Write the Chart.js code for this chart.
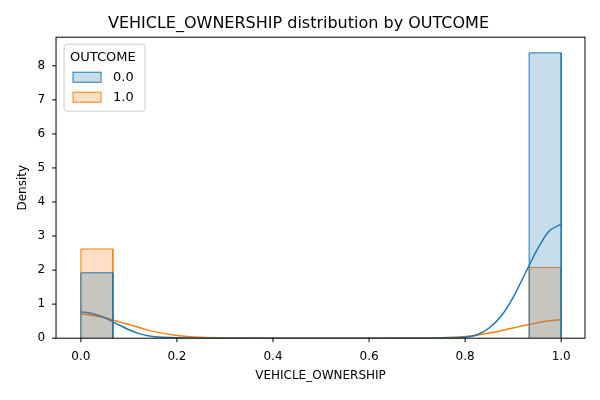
<!DOCTYPE html>
<html><head><meta charset="utf-8">
<script src="https://cdn.jsdelivr.net/npm/chart.js@4/dist/chart.umd.min.js"></script>
<style>html,body{margin:0;background:#fff}#wrap{width:600px;height:400px}</style>
</head><body><div id="wrap"><canvas id="c"></canvas></div>
<script>
// ─── DATA ─────────────────────────────────────────────
const binEdges = [0, 1/15, 14/15, 1];
const hist0 = [1.92, 0, 8.38];   // OUTCOME 0.0
const hist1 = [2.62, 0, 2.08];   // OUTCOME 1.0
const kdeX  = [0, 0.025, 0.05, 0.075, 0.1, 0.125, 0.15, 0.2, 0.25, 0.3, 0.4, 0.5, 0.6, 0.7, 0.75, 0.8, 0.825, 0.85, 0.875, 0.9, 0.925, 0.95, 0.975, 1.0];
const kde0  = [0.78, 0.72, 0.6, 0.42, 0.25, 0.12, 0.05, 0.01, 0, 0, 0, 0, 0, 0, 0.005, 0.03, 0.1, 0.3, 0.65, 1.2, 1.9, 2.6, 3.15, 3.35];
const kde1  = [0.72, 0.67, 0.6, 0.5, 0.4, 0.3, 0.2, 0.08, 0.025, 0.008, 0.002, 0.001, 0.002, 0.006, 0.015, 0.05, 0.09, 0.15, 0.22, 0.3, 0.38, 0.45, 0.51, 0.55];
const xTicks = [0, 0.2, 0.4, 0.6, 0.8, 1.0];
const yTicks = [0, 1, 2, 3, 4, 5, 6, 7, 8];

const BLUE = '#1f77b4', ORANGE = '#ff7f0e';

function barsDataset(h, color, fill) {
    const pts = [];
    h.forEach((v, i) => {
        if (!v) return;
        pts.push({x: binEdges[i], y: 0}, {x: binEdges[i], y: v}, {x: binEdges[i + 1], y: v}, {x: binEdges[i + 1], y: 0}, {x: NaN, y: NaN});
    });
    return { type: 'line', data: pts, borderColor: color, backgroundColor: fill, borderWidth: 1, fill: 'origin', pointRadius: 0, tension: 0, spanGaps: false };
}
function kdeDataset(ys, color) {
    return { type: 'line', data: kdeX.map((x, i) => ({x, y: ys[i]})), borderColor: color, borderWidth: 1.5, fill: false, pointRadius: 0, tension: 0.3 };
}

const frame = {
    id: 'frame',
    afterDraw(chart) {
        const {ctx, chartArea: a} = chart;
        ctx.save();
        ctx.strokeStyle = '#000'; ctx.lineWidth = 1;
        ctx.strokeRect(a.left, a.top, a.right - a.left, a.bottom - a.top);
        // tick marks
        ctx.beginPath();
        xTicks.forEach(v => { const x = chart.scales.x.getPixelForValue(v); ctx.moveTo(x, a.bottom); ctx.lineTo(x, a.bottom + 4); });
        yTicks.forEach(v => { const y = chart.scales.y.getPixelForValue(v); ctx.moveTo(a.left, y); ctx.lineTo(a.left - 4, y); });
        ctx.stroke();
        // legend
        const lx = a.left + 8, ly = a.top + 7, w = 81, hgt = 67;
        ctx.fillStyle = 'rgba(255,255,255,0.8)'; ctx.strokeStyle = '#ccc';
        ctx.beginPath(); ctx.roundRect(lx, ly, w, hgt, 3); ctx.fill(); ctx.stroke();
        ctx.fillStyle = '#000'; ctx.font = '13px "DejaVu Sans"'; ctx.textBaseline = 'middle';
        ctx.fillText('OUTCOME', lx + 6, ly + 13);
        [['0.0', BLUE, 'rgba(31,119,180,0.25)'], ['1.0', ORANGE, 'rgba(255,127,14,0.25)']].forEach(([t, c, f], i) => {
            const yy = ly + 33 + i * 20;
            ctx.fillStyle = '#fff'; ctx.fillRect(lx + 9, yy - 5, 28, 10);
            ctx.fillStyle = f; ctx.fillRect(lx + 9, yy - 5, 28, 10);
            ctx.strokeStyle = c; ctx.strokeRect(lx + 9, yy - 5, 28, 10);
            ctx.fillStyle = '#000'; ctx.fillText(t, lx + 49, yy);
        });
        ctx.restore();
    }
};

new Chart(document.getElementById('c'), {
    type: 'line',
    data: { datasets: [
        barsDataset(hist0, BLUE, 'rgba(31,119,180,0.25)'),
        barsDataset(hist1, ORANGE, 'rgba(255,127,14,0.25)'),
        kdeDataset(kde0, BLUE),
        kdeDataset(kde1, ORANGE),
    ]},
    options: {
        responsive: true, maintainAspectRatio: false, animation: false,
        layout: { padding: { top: 4, right: 15, left: 12, bottom: 13 } },
        plugins: {
            legend: { display: false }, tooltip: { enabled: false },
            title: { display: true, text: 'VEHICLE_OWNERSHIP distribution by OUTCOME', color: '#000', font: { family: 'DejaVu Sans', size: 16, weight: 'normal' }, padding: { top: 10, bottom: 4 } },
        },
        scales: {
            x: {
                type: 'linear', min: -0.0517, max: 1.0496,
                afterBuildTicks: (s) => { s.ticks = xTicks.map(v => ({value: v})); },
                ticks: { color: '#000', font: { family: 'DejaVu Sans', size: 12 }, callback: (v) => v.toFixed(1), maxRotation: 0 },
                grid: { display: false }, border: { display: false },
                title: { display: true, text: 'VEHICLE_OWNERSHIP', color: '#000', font: { family: 'DejaVu Sans', size: 12 }, padding: { top: 2 } },
            },
            y: {
                min: 0, max: 8.84,
                afterBuildTicks: (s) => { s.ticks = yTicks.map(v => ({value: v})); },
                ticks: { color: '#000', font: { family: 'DejaVu Sans', size: 12 } },
                grid: { display: false }, border: { display: false },
                title: { display: true, text: 'Density', color: '#000', font: { family: 'DejaVu Sans', size: 12 } },
            },
        },
    },
    plugins: [frame],
});
</script></body></html>
